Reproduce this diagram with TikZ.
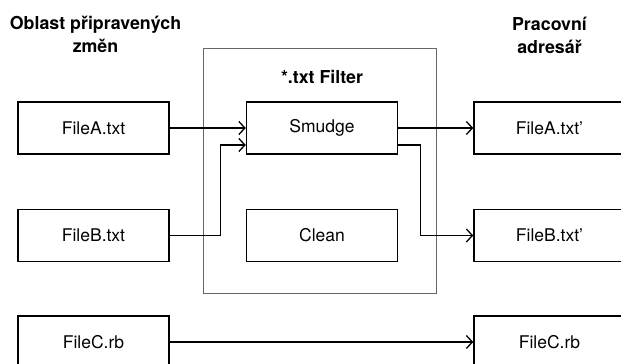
\documentclass[tikz,border=0pt]{standalone}
\usepackage{fontspec}
\setmainfont{TeX Gyre Heros}
\usepackage{tikz}
\usetikzlibrary{arrows.meta, positioning, fit, backgrounds, calc}
\tikzset{
  filebox/.style={rectangle, draw=black, line width=1.5pt,
                  minimum width=151pt, minimum height=52pt, inner sep=0pt,
                  font=\fontsize{17.5}{20}\selectfont},
  header/.style={align=center, font=\fontsize{17.8}{23.5}\selectfont\bfseries},
  arrow/.style={-{Straight Barb[length=6pt, width=13pt, line width=1.3pt]},
                line width=1.3pt, draw=black},
  filterframe/.style={rectangle, draw=black!60, line width=0.7pt, inner sep=0pt},
}

\begin{document}
\begin{tikzpicture}[x=1pt, y=1pt, node distance=54pt and 76pt]
  \useasboundingbox (0,0) rectangle (621,-364);

  % Staging area
  \node[filebox] (fa) at (93.5,-128) {FileA.txt};
  \node[filebox, below=of fa] (fb) {FileB.txt};
  \node[filebox, below=53pt of fb] (fc) {FileC.rb};
  \node[header, above=45pt of fa, xshift=2pt] (stage) {Oblast připravených\\změn};

  % Filter box
  \node[filebox, right=of fa] (smudge) {Smudge};
  \node[filebox, below=of smudge] (clean) {Clean};
  \node[header, above=14pt of smudge] (flt) {*.txt Filter};
  \begin{scope}[on background layer]
    \node[filterframe,
          fit={($(smudge.north west)+(-42,53)$) ($(clean.south east)+(38,-31)$)}]
          (filter) {};
  \end{scope}

  % Working directory
  \node[filebox, right=75pt of smudge] (fap) {FileA.txt'};
  \node[filebox, below=of fap] (fbp) {FileB.txt'};
  \node[filebox, below=53pt of fbp] (fcp) {FileC.rb};
  \node[header, above=44pt of fap] (work) {Pracovní\\adresář};

  % Arrows
  \draw[arrow] (fa) -- (smudge);
  \draw[arrow] (fb.east) -- ++(51,0) |- ([yshift=-17pt]smudge.west);
  \draw[arrow] (smudge) -- (fap);
  \draw[arrow] ([yshift=-17pt]smudge.east) -- ++(22,0) |- (fbp.west);
  \draw[arrow] (fc) -- (fcp);
\end{tikzpicture}
\end{document}
